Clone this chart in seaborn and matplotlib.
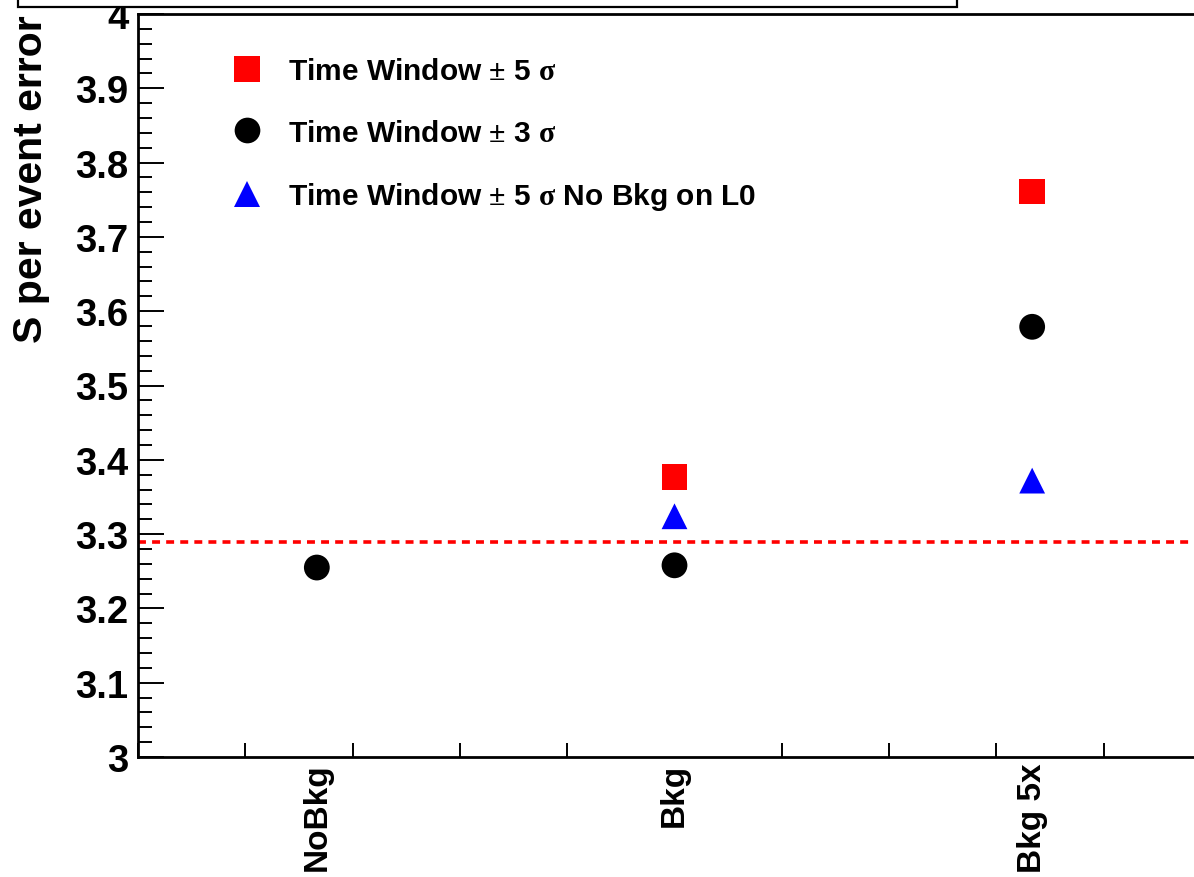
import numpy as np
import pandas as pd
import matplotlib
matplotlib.use("Agg")
import matplotlib.pyplot as plt
from matplotlib.patches import Rectangle
from matplotlib.ticker import FixedLocator
import seaborn as sns

# Measured resolution per configuration
categories = ["NoBkg", "Bkg", "Bkg 5x"]
window_5sigma = [np.nan, 3.377, 3.761]
window_3sigma = [3.255, 3.258, 3.579]
window_5sigma_no_l0 = [np.nan, 3.324, 3.372]
reference_level = 3.289

series_labels = [
    r"Time Window $\mathrm{\pm}$ 5 $\mathrm{\sigma}$",
    r"Time Window $\mathrm{\pm}$ 3 $\mathrm{\sigma}$",
    r"Time Window $\mathrm{\pm}$ 5 $\mathrm{\sigma}$ No Bkg on L0",
]
series_colors = ["#ff0000", "#000000", "#0000ff"]
series_markers = ["s", "o", "^"]

y_ticks = [3.0, 3.1, 3.2, 3.3, 3.4, 3.5, 3.6, 3.7, 3.8, 3.9, 4.0]
y_tick_labels = ["3", "3.1", "3.2", "3.3", "3.4", "3.5", "3.6", "3.7", "3.8", "3.9", "4"]

rows = []
for label, values in zip(series_labels, [window_5sigma, window_3sigma, window_5sigma_no_l0]):
    for cat, v in zip(categories, values):
        if not np.isnan(v):
            rows.append({"config": cat, "value": v, "series": label})
df = pd.DataFrame(rows)
df["config"] = pd.Categorical(df["config"], categories=categories, ordered=True)

sns.set_style("ticks")
plt.rcParams["font.family"] = ["Liberation Sans", "DejaVu Sans"]
plt.rcParams["font.weight"] = "bold"
plt.rcParams["mathtext.fontset"] = "custom"
plt.rcParams["mathtext.rm"] = "Liberation Serif"
for key in ["text.color", "axes.labelcolor", "xtick.color", "ytick.color", "axes.edgecolor"]:
    plt.rcParams[key] = "black"

fig = plt.figure(figsize=(11.94, 8.78), dpi=100)
W, H = 1194, 878
ax = fig.add_axes([138 / W, (H - 758) / H, 1073 / W, 743 / H])

sns.scatterplot(
    data=df, x="config", y="value", hue="series", style="series",
    hue_order=series_labels, style_order=series_labels,
    palette=dict(zip(series_labels, series_colors)),
    markers=dict(zip(series_labels, series_markers)),
    s=345, linewidth=0, ax=ax, zorder=3,
)

ax.axhline(reference_level, color="#ff0000", lw=2.6, dashes=(2.2, 1.7), zorder=2)

ax.set_xlim(-0.5, 2.5)
ax.set_ylim(3.0, 4.0)

# y axis: labelled majors, 5 subdivisions
ax.set_yticks(y_ticks)
ax.set_yticklabels(y_tick_labels, fontsize=27.5, fontweight="bold")
ax.yaxis.set_minor_locator(FixedLocator(np.arange(3.0, 4.0001, 0.02)))
ax.tick_params(axis="y", which="major", direction="in", length=19, width=1.4, pad=7)
ax.tick_params(axis="y", which="minor", direction="in", length=10, width=1.4)

# x axis: bin labels at centres, unlabelled divisions along the axis
ax.set_xticks(range(len(categories)))
ax.set_xticklabels(categories, rotation=90, fontsize=24, fontweight="bold", va="top")
ax.xaxis.set_minor_locator(FixedLocator(np.arange(-0.5, 2.5001, 0.3)))
ax.tick_params(axis="x", which="major", length=0, pad=4)
ax.tick_params(axis="x", which="minor", direction="in", length=10, width=1.4)

for side in ["left", "bottom", "top", "right"]:
    ax.spines[side].set_linewidth(2.0)
    ax.spines[side].set_color("black")

ax.set_xlabel("")
ax.set_ylabel("S per event error", fontsize=29.5, fontweight="bold", loc="top")
ax.yaxis.set_label_coords(-0.0824, 0.999)

handles, labels = ax.get_legend_handles_labels()
for h in handles:
    h.set_markersize(18.5)
ax.legend(
    handles, labels, loc="upper left", bbox_to_anchor=(0.081, 0.942),
    frameon=False, borderpad=0, borderaxespad=0, handlelength=1.5,
    handletextpad=0.62, labelspacing=1.12,
    prop={"weight": "bold", "size": 21.5},
)

# title box along the top edge
fig.patches.append(Rectangle((18 / W, 1 - 8 / H), (957 - 18) / W, 0.1,
                             transform=fig.transFigure, facecolor="white",
                             edgecolor="black", linewidth=1.6, zorder=5))

fig.savefig("out.png", dpi=100)
